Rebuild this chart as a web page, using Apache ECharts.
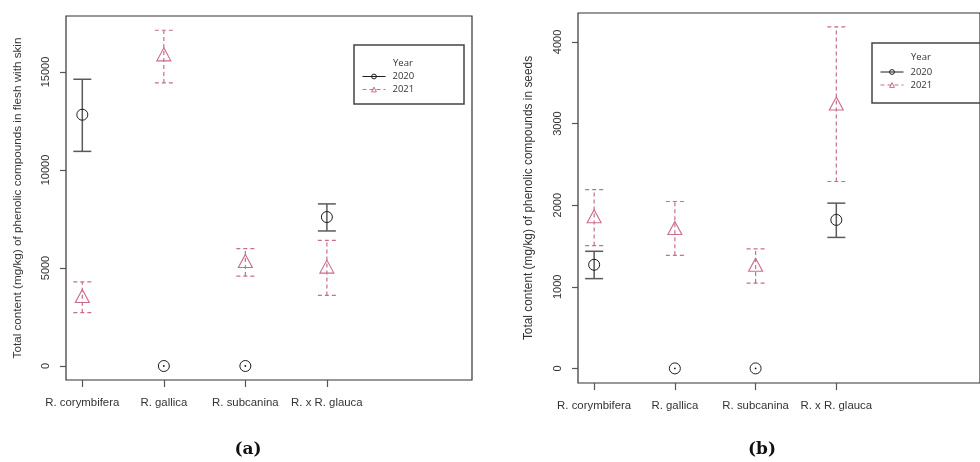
<!DOCTYPE html>
<html><head><meta charset="utf-8">
<script src="https://cdn.jsdelivr.net/npm/echarts@6/dist/echarts.min.js"></script>
<style>html,body{margin:0;padding:0;background:#fff}#c{width:980px;height:462px}</style>
</head><body><div id="c"></div>
<script>
const categories = ['R. corymbifera', 'R. gallica', 'R. subcanina', 'R. x R. glauca'];
const years = ['2020', '2021'];
// Panel (a): flesh with skin
const fleshMean2020 = [12820, 0, 0, 7600];
const fleshLow2020 = [10950, 0, 0, 6890];
const fleshHigh2020 = [14630, 0, 0, 8270];
const fleshMean2021 = [3570, 15900, 5360, 5070];
const fleshLow2021 = [2720, 14440, 4590, 3600];
const fleshHigh2021 = [4290, 17130, 5990, 6410];
// Panel (b): seeds
const seedMean2020 = [1270, 0, 0, 1820];
const seedLow2020 = [1100, 0, 0, 1605];
const seedHigh2020 = [1435, 0, 0, 2025];
const seedMean2021 = [1865, 1720, 1270, 3245];
const seedLow2021 = [1505, 1385, 1045, 2290];
const seedHigh2021 = [2190, 2045, 1465, 4185];
// Tick labels
const fleshTicks = [0, 5000, 10000, 15000];
const seedTicks = [0, 1000, 2000, 3000, 4000];
const titleA = 'Total content (mg/kg) of phenolic compounds in flesh with skin';
const titleB = 'Total content (mg/kg) of phenolic compounds in seeds';
const panelLabels = ['(a)', '(b)'];

const FONT = '"Liberation Sans", Arial, sans-serif';
const BLACK = '#1e1e1e';
const BAR_BLACK = '#5a5a5a';
const PINK = '#c96d8b';
const catPos = categories.map((c, i) => i + 1);

function errRender(color, dash, lw) {
  return function (params, api) {
    const x = api.value(0), lo = api.value(1), hi = api.value(2);
    const pLo = api.coord([x, lo]), pHi = api.coord([x, hi]);
    const w = 9;
    if (hi === lo) {
      return { type: 'circle', shape: { cx: pLo[0], cy: pLo[1], r: 0.9 }, style: { fill: BLACK } };
    }
    const style = { stroke: color, lineWidth: lw, lineDash: dash, fill: null };
    return { type: 'group', children: [
      { type: 'line', shape: { x1: pLo[0], y1: pLo[1], x2: pHi[0], y2: pHi[1] }, style: style },
      { type: 'line', shape: { x1: pLo[0] - w, y1: pLo[1], x2: pLo[0] + w, y2: pLo[1] }, style: style },
      { type: 'line', shape: { x1: pHi[0] - w, y1: pHi[1], x2: pHi[0] + w, y2: pHi[1] }, style: style }
    ]};
  };
}

function panelSeries(idx, m20, l20, h20, m21, l21, h21) {
  return [
    { type: 'custom', name: 'err2020_' + idx, xAxisIndex: idx, yAxisIndex: idx, z: 2,
      renderItem: errRender(BAR_BLACK, null, 1.5),
      data: catPos.map((x, i) => [x, l20[i], h20[i]]) },
    { type: 'custom', name: 'err2021_' + idx, xAxisIndex: idx, yAxisIndex: idx, z: 2,
      renderItem: errRender(PINK, [4, 3], 1.2),
      data: catPos.map((x, i) => [x, l21[i], h21[i]]) },
    { type: 'line', name: years[0], xAxisIndex: idx, yAxisIndex: idx, z: 3,
      symbol: 'circle', symbolSize: 11, showSymbol: true,
      itemStyle: { color: 'rgba(255,255,255,0)', borderColor: BLACK, borderWidth: 1 },
      lineStyle: { color: BLACK, opacity: 0, width: 1 },
      emphasis: { disabled: true },
      data: catPos.map((x, i) => [x, m20[i]]) },
    { type: 'line', name: years[1], xAxisIndex: idx, yAxisIndex: idx, z: 3,
      symbol: 'triangle', symbolSize: [14, 13], showSymbol: true,
      itemStyle: { color: 'rgba(255,255,255,0)', borderColor: PINK, borderWidth: 1.1 },
      lineStyle: { color: PINK, opacity: 0, width: 1, type: [4, 3] },
      emphasis: { disabled: true },
      data: catPos.map((x, i) => [x, m21[i]]) }
  ];
}

function xAxisDef(idx) {
  return {
    type: 'value', gridIndex: idx, min: 0.8, max: 5.78,
    splitLine: { show: false },
    axisLine: { show: false, onZero: false },
    axisTick: { show: true, length: 7, customValues: catPos, lineStyle: { color: '#555', width: 1.2 } },
    axisLabel: { show: true, customValues: catPos, margin: 17, fontSize: 11.4, fontFamily: FONT, color: '#333',
      formatter: v => categories[Math.round(v) - 1] || '' }
  };
}

function yAxisDef(idx, min, max, ticks, title, gap, fs) {
  return {
    type: 'value', gridIndex: idx, min: min, max: max,
    splitLine: { show: false },
    axisLine: { show: false, onZero: false },
    axisTick: { show: true, length: 6, customValues: ticks, lineStyle: { color: '#555', width: 1.2 } },
    axisLabel: { show: true, customValues: ticks, rotate: 90, margin: 15, fontSize: 11, fontFamily: FONT, color: '#333',
      formatter: v => String(v) },
    name: title, nameLocation: 'middle', nameRotate: 90, nameGap: gap,
    nameTextStyle: { fontSize: fs, fontFamily: FONT, color: '#333' }
  };
}

function legendDef(left, top, pad) {
  return {
    orient: 'vertical', left: left, top: top, data: years, selectedMode: false,
    itemWidth: 23, itemHeight: 6, itemGap: 3,
    textStyle: { fontSize: 9.5, fontFamily: '"Open Sans", "Noto Sans", sans-serif', color: '#333', padding: [0, 0, 0, pad] },
    lineStyle: { opacity: 1, width: 1 },
    itemStyle: { borderWidth: 1 }
  };
}

const chart = echarts.init(document.getElementById('c'), null, { renderer: 'canvas' });
chart.setOption({
  animation: false,
  backgroundColor: '#fff',
  grid: [
    { left: 66, top: 16, width: 406, height: 364, show: true, borderColor: '#333', borderWidth: 1.2 },
    { left: 578, top: 13, width: 412, height: 370, show: true, borderColor: '#333', borderWidth: 1.2 }
  ],
  xAxis: [xAxisDef(0), xAxisDef(1)],
  yAxis: [
    yAxisDef(0, -714, 17857, fleshTicks, titleA, 42, 11.7),
    yAxisDef(1, -179, 4355, seedTicks, titleB, 43, 11.9)
  ],
  legend: [legendDef(357, 66.5, 2), legendDef(875, 62, 2)],
  series: panelSeries(0, fleshMean2020, fleshLow2020, fleshHigh2020, fleshMean2021, fleshLow2021, fleshHigh2021)
    .concat(panelSeries(1, seedMean2020, seedLow2020, seedHigh2020, seedMean2021, seedLow2021, seedHigh2021)),
  graphic: [
    { type: 'rect', shape: { x: 354, y: 45, width: 110, height: 59 }, style: { fill: null, stroke: '#444', lineWidth: 1.5 }, z: 10 },
    { type: 'text', x: 393, y: 63, style: { text: 'Year', font: '9.5px "Open Sans", "Noto Sans", sans-serif', fill: '#333', textVerticalAlign: 'middle' }, z: 10 },
    { type: 'rect', shape: { x: 872, y: 43, width: 130, height: 60 }, style: { fill: null, stroke: '#444', lineWidth: 1.5 }, z: 10 },
    { type: 'text', x: 911, y: 57, style: { text: 'Year', font: '9.5px "Open Sans", "Noto Sans", sans-serif', fill: '#333', textVerticalAlign: 'middle' }, z: 10 },
    { type: 'text', x: 248, y: 450, style: { text: panelLabels[0], font: 'bold 17px "DejaVu Serif", "Liberation Serif", serif', fill: '#111', textAlign: 'center', textVerticalAlign: 'middle' } },
    { type: 'text', x: 762, y: 450, style: { text: panelLabels[1], font: 'bold 17px "DejaVu Serif", "Liberation Serif", serif', fill: '#111', textAlign: 'center', textVerticalAlign: 'middle' } }
  ]
});
</script></body></html>
